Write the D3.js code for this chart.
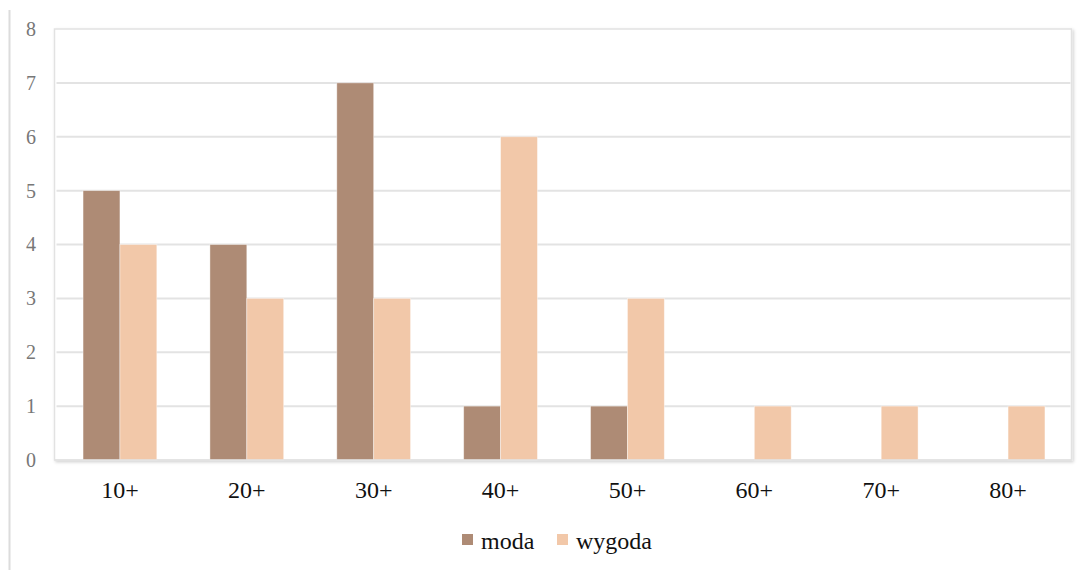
<!DOCTYPE html>
<html>
<head>
<meta charset="utf-8">
<script src="https://cdn.jsdelivr.net/npm/d3@7"></script>
<style>
  html, body { margin: 0; padding: 0; background: #fff; }
  svg { display: block; }
</style>
</head>
<body>
<svg id="chart" width="1090" height="570"></svg>
<script>
// Age groups and the number of answers per motive
const categories = ["10+", "20+", "30+", "40+", "50+", "60+", "70+", "80+"];
const seriesNames = ["moda", "wygoda"];
const modaValues = [5, 4, 7, 1, 1, 0, 0, 0];
const wygodaValues = [4, 3, 3, 6, 3, 1, 1, 1];
const yTicks = [0, 1, 2, 3, 4, 5, 6, 7, 8];
const seriesColors = ["#ae8b75", "#f2c8a9"];

const svg = d3.select("#chart");
const W = 1090, H = 570;
const plot = { left: 56.5, right: 1071.5, top: 29, bottom: 460 };

// page frame line on the left
svg.append("line")
  .attr("x1", 9.5).attr("x2", 9.5).attr("y1", 10).attr("y2", H)
  .attr("stroke", "#dcdcdc").attr("stroke-width", 2);

const defs = svg.append("defs");
const f = defs.append("filter").attr("id", "shadow")
  .attr("x", "-5%").attr("y", "-5%").attr("width", "110%").attr("height", "110%");
f.append("feDropShadow").attr("dx", 1.5).attr("dy", 1.5).attr("stdDeviation", 1.5)
  .attr("flood-color", "#000").attr("flood-opacity", 0.18);

// plot area box
svg.append("rect")
  .attr("x", plot.left - 2).attr("y", plot.top)
  .attr("width", plot.right - plot.left + 2).attr("height", plot.bottom - plot.top)
  .attr("fill", "#fff").attr("stroke", "#e2e2e2").attr("stroke-width", 1.5)
  .attr("filter", "url(#shadow)");

const x0 = d3.scaleBand().domain(categories).range([plot.left, plot.right]).padding(0);
const x1 = d3.scaleBand().domain(seriesNames).range([0, x0.bandwidth()])
  .paddingInner(0).paddingOuter(0.72);
const y = d3.scaleLinear().domain([0, 8]).range([plot.bottom, plot.top]);

// horizontal gridlines
svg.append("g").selectAll("line")
  .data(yTicks.filter(t => t > 0 && t < 8))
  .join("line")
  .attr("x1", plot.left).attr("x2", plot.right - 1)
  .attr("y1", d => y(d)).attr("y2", d => y(d))
  .attr("stroke", "#e3e3e3").attr("stroke-width", 2);

// y axis labels
const yAxis = d3.axisLeft(y).tickValues(yTicks).tickSize(0).tickPadding(0).tickFormat(d3.format("d"));
const yg = svg.append("g").attr("transform", "translate(37,0)").call(yAxis);
yg.select(".domain").remove();
yg.selectAll("text")
  .attr("font-family", "'Liberation Serif', 'Times New Roman', serif")
  .attr("font-size", 20).attr("fill", "#777").attr("text-anchor", "middle")
  .attr("dx", -6);

// bars
const valuesBySeries = { moda: modaValues, wygoda: wygodaValues };
const groups = svg.append("g").selectAll("g")
  .data(categories)
  .join("g")
  .attr("transform", d => `translate(${x0(d)},0)`);

groups.selectAll("rect")
  .data((c, i) => seriesNames.map((s, k) => ({ s, k, v: valuesBySeries[s][i] })))
  .join("rect")
  .filter(d => d.v > 0)
  .attr("x", d => x1(d.s))
  .attr("width", x1.bandwidth())
  .attr("y", d => y(d.v))
  .attr("height", d => y(0) - y(d.v))
  .attr("fill", d => seriesColors[d.k])
  .attr("stroke", "#fff").attr("stroke-opacity", 0.5).attr("stroke-width", 0.8);

// bottom plot edge over bars
svg.append("line")
  .attr("x1", plot.left - 2).attr("x2", plot.right)
  .attr("y1", plot.bottom).attr("y2", plot.bottom)
  .attr("stroke", "#e2e2e2").attr("stroke-width", 1.5);

// x axis labels
const xAxis = d3.axisBottom(x0).tickSize(0).tickPadding(0);
const xg = svg.append("g").attr("transform", `translate(0,${plot.bottom})`).call(xAxis);
xg.select(".domain").remove();
xg.selectAll("text")
  .attr("font-family", "'Liberation Serif', 'Times New Roman', serif")
  .attr("font-size", 24).attr("fill", "#111")
  .attr("y", 38).attr("dy", 0);

// legend
const legend = svg.append("g");
const legendItems = [
  { name: seriesNames[0], color: seriesColors[0], x: 462 },
  { name: seriesNames[1], color: seriesColors[1], x: 557 }
];
const li = legend.selectAll("g").data(legendItems).join("g")
  .attr("transform", d => `translate(${d.x},0)`);
li.append("rect").attr("x", 0).attr("y", 534).attr("width", 11).attr("height", 11)
  .attr("fill", d => d.color);
li.append("text").attr("x", 19).attr("y", 549)
  .attr("font-family", "'Liberation Serif', 'Times New Roman', serif")
  .attr("font-size", 24).attr("fill", "#111")
  .text(d => d.name);
</script>
</body>
</html>
